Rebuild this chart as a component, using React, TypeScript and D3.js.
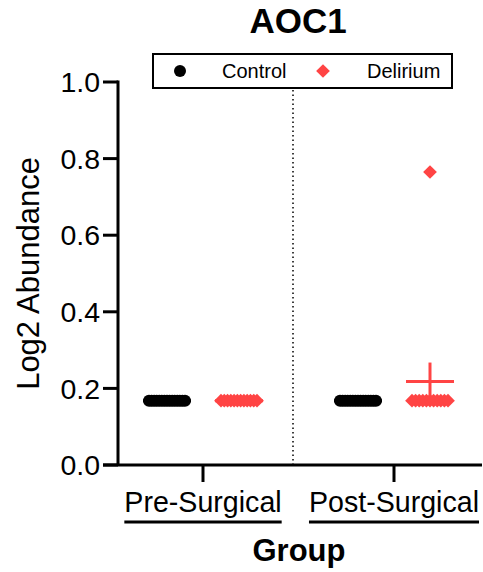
import React, { useEffect, useRef } from "react";
import * as d3 from "d3";

// groups on the x axis and the two series
const groups = ["Pre-Surgical", "Post-Surgical"];
const seriesNames = ["Control", "Delirium"];
const seriesColors = ["#000000", "#ff4444"];

// log2 abundance per subject
const controlPre = [0.168, 0.168, 0.168, 0.168, 0.168, 0.168, 0.168, 0.168, 0.168, 0.168, 0.168, 0.168, 0.168, 0.168, 0.168];
const controlPost = [0.168, 0.168, 0.168, 0.168, 0.168, 0.168, 0.168, 0.168, 0.168, 0.168, 0.168, 0.168, 0.168, 0.168, 0.168];
const deliriumPre = [0.168, 0.168, 0.168, 0.168, 0.168, 0.168, 0.168, 0.168, 0.168, 0.168, 0.168, 0.168];
const deliriumPost = [0.168, 0.168, 0.168, 0.168, 0.168, 0.168, 0.765, 0.168, 0.168, 0.168, 0.168, 0.168];

const yTicks = [0, 0.2, 0.4, 0.6, 0.8, 1.0];

const FONT = "'Liberation Sans', Arial, sans-serif";

const App: React.FC = () => {
  const ref = useRef<SVGSVGElement>(null);

  useEffect(() => {
    const svg = d3.select(ref.current);
    svg.selectAll("*").remove();

    const axisX = 118;
    const axisRight = 482;
    const top = 82;
    const bottom = 465;

    const y = d3.scaleLinear().domain([0, 1]).range([bottom, top]);
    const x = d3.scalePoint<string>().domain(groups).range([203, 394]);
    const sub = d3.scalePoint<string>().domain(seriesNames).range([-36, 36]);

    const data = [
      { group: groups[0], series: seriesNames[0], values: controlPre },
      { group: groups[0], series: seriesNames[1], values: deliriumPre },
      { group: groups[1], series: seriesNames[0], values: controlPost },
      { group: groups[1], series: seriesNames[1], values: deliriumPost },
    ];

    // title
    svg.append("text")
      .attr("x", 298).attr("y", 33)
      .attr("text-anchor", "middle")
      .attr("font-family", FONT).attr("font-weight", "bold").attr("font-size", 35)
      .text("AOC1");

    // dotted separator
    svg.append("line")
      .attr("x1", 293).attr("x2", 293)
      .attr("y1", 90).attr("y2", bottom)
      .attr("stroke", "#000").attr("stroke-width", 1.5)
      .attr("stroke-dasharray", "1.5 3");

    // y axis
    svg.append("line")
      .attr("x1", axisX).attr("x2", axisX)
      .attr("y1", top - 1.5).attr("y2", bottom)
      .attr("stroke", "#000").attr("stroke-width", 3);
    yTicks.forEach((t) => {
      svg.append("line")
        .attr("x1", 103).attr("x2", axisX)
        .attr("y1", y(t)).attr("y2", y(t))
        .attr("stroke", "#000").attr("stroke-width", 3);
      svg.append("text")
        .attr("x", 100).attr("y", y(t))
        .attr("dy", "0.36em")
        .attr("text-anchor", "end")
        .attr("font-family", FONT).attr("font-size", 28.5)
        .text(t.toFixed(1));
    });

    svg.append("text")
      .attr("transform", `translate(39, ${(top + bottom) / 2}) rotate(-90)`)
      .attr("text-anchor", "middle")
      .attr("font-family", FONT).attr("font-size", 31)
      .text("Log2 Abundance");

    // x axis
    svg.append("line")
      .attr("x1", 103).attr("x2", axisRight)
      .attr("y1", bottom).attr("y2", bottom)
      .attr("stroke", "#000").attr("stroke-width", 3);
    groups.forEach((g) => {
      const cx = x(g)!;
      svg.append("line")
        .attr("x1", cx).attr("x2", cx)
        .attr("y1", bottom).attr("y2", bottom + 17)
        .attr("stroke", "#000").attr("stroke-width", 3);
      const label = svg.append("text")
        .attr("x", cx).attr("y", 512)
        .attr("text-anchor", "middle")
        .attr("font-family", FONT).attr("font-size", 28.6)
        .text(g);
      const w = (label.node() as SVGTextElement).getComputedTextLength();
      svg.append("line")
        .attr("x1", cx - w / 2).attr("x2", cx + w / 2)
        .attr("y1", 522).attr("y2", 522)
        .attr("stroke", "#000").attr("stroke-width", 3);
    });

    svg.append("text")
      .attr("x", 299).attr("y", 561)
      .attr("text-anchor", "middle")
      .attr("font-family", FONT).attr("font-weight", "bold").attr("font-size", 31)
      .text("Group");

    // means and SEM
    const halfMean = 24;
    data.forEach((d) => {
      const cx = x(d.group)! + sub(d.series)!;
      const color = seriesColors[seriesNames.indexOf(d.series)];
      const m = d3.mean(d.values)!;
      const sem = d3.deviation(d.values)! / Math.sqrt(d.values.length);
      svg.append("line")
        .attr("x1", cx - halfMean).attr("x2", cx + halfMean)
        .attr("y1", y(m)).attr("y2", y(m))
        .attr("stroke", color).attr("stroke-width", 3);
      if (sem > 0) {
        svg.append("line")
          .attr("x1", cx).attr("x2", cx)
          .attr("y1", y(m - sem)).attr("y2", y(m + sem))
          .attr("stroke", color).attr("stroke-width", 3);
      }
    });

    // points
    const diamond = d3.symbol().type(d3.symbolDiamond2).size(120);
    data.forEach((d) => {
      const cx = x(d.group)! + sub(d.series)!;
      const color = seriesColors[seriesNames.indexOf(d.series)];
      // points sharing a value spread across the column
      const byValue = d3.group(d.values.map((v, i) => ({ v, i })), (p) => p.v);
      byValue.forEach((pts) => {
        const n = pts.length;
        const spread = n > 1 ? 18 : 0;
        const off = d3.scaleLinear().domain([0, Math.max(1, n - 1)]).range([-spread, spread]);
        pts.forEach((p, k) => {
          const px = n > 1 ? cx + off(k) : cx;
          if (d.series === "Control") {
            svg.append("circle")
              .attr("cx", px).attr("cy", y(p.v)).attr("r", 6)
              .attr("fill", color);
          } else {
            svg.append("path")
              .attr("d", diamond()!)
              .attr("transform", `translate(${px},${y(p.v)})`)
              .attr("fill", color);
          }
        });
      });
    });

    // legend
    svg.append("rect")
      .attr("x", 153).attr("y", 54)
      .attr("width", 299).attr("height", 34)
      .attr("fill", "#fff").attr("stroke", "#000").attr("stroke-width", 2);
    svg.append("circle").attr("cx", 180).attr("cy", 71).attr("r", 6).attr("fill", seriesColors[0]);
    svg.append("text")
      .attr("x", 222).attr("y", 71).attr("dy", "0.36em")
      .attr("font-family", FONT).attr("font-size", 20)
      .text(seriesNames[0]);
    svg.append("path")
      .attr("d", diamond()!)
      .attr("transform", "translate(323,71)")
      .attr("fill", seriesColors[1]);
    svg.append("text")
      .attr("x", 367).attr("y", 71).attr("dy", "0.36em")
      .attr("font-family", FONT).attr("font-size", 20)
      .text(seriesNames[1]);
  }, []);

  return (
    <svg
      ref={ref}
      width={483}
      height={572}
      style={{ position: "absolute", left: 0, top: 0, background: "#fff" }}
    />
  );
};

export default App;
